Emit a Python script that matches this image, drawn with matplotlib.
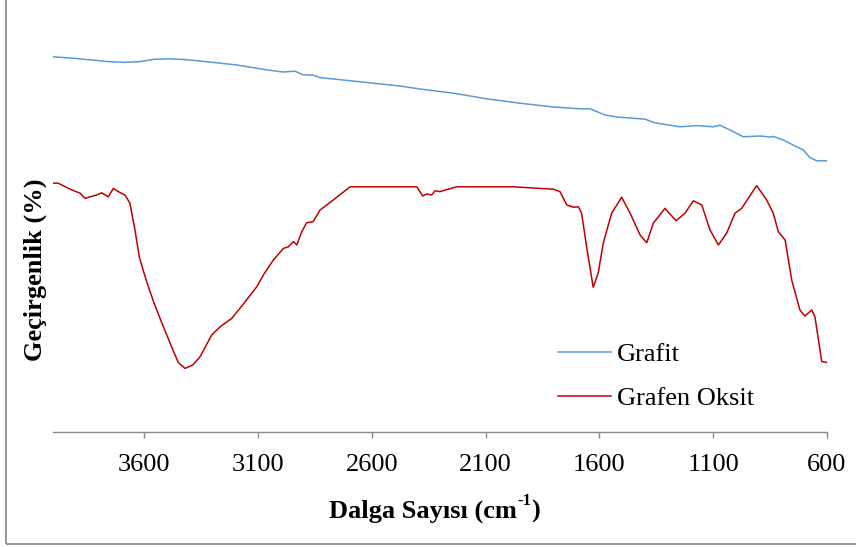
import matplotlib
matplotlib.use("Agg")
import matplotlib.pyplot as plt
from matplotlib.lines import Line2D

# Grafit spectrum (wavenumber cm-1, transmittance a.u.)
grafit_wn = [4000, 3903, 3758, 3684, 3618, 3552, 3486, 3420, 3354, 3192, 3069, 2990,
             2937, 2902, 2858, 2827, 2709, 2594, 2476, 2388, 2241, 2095, 1949, 1802,
             1685, 1641, 1575, 1524, 1421, 1399, 1356, 1246, 1172, 1099, 1070, 1012,
             968, 894, 850, 836, 792, 733, 704, 675, 645, 600]
grafit_t = [93.8, 93.4, 92.6, 92.4, 92.6, 93.2, 93.3, 93.1, 92.75, 91.75, 90.6, 90.0,
            90.2, 89.3, 89.2, 88.6, 87.9, 87.2, 86.5, 85.75, 84.7, 83.3, 82.2, 81.25,
            80.8, 80.8, 79.25, 78.75, 78.3, 78.2, 77.3, 76.3, 76.6, 76.3, 76.7, 75.1,
            73.8, 74.0, 73.75, 73.9, 73.0, 71.3, 70.5, 68.6, 67.8, 67.8]

# Grafen Oksit spectrum
go_wn = [4000, 3977, 3925, 3881, 3859, 3837, 3808, 3786, 3757, 3735, 3713, 3684, 3662,
         3640, 3621, 3600, 3581, 3556, 3515, 3479, 3450, 3420, 3386, 3354, 3303, 3266,
         3215, 3179, 3105, 3076, 3032, 2988, 2966, 2944, 2929, 2907, 2886, 2857, 2827,
         2769, 2695, 2402, 2376, 2359, 2336, 2322, 2300, 2227, 1978, 1802, 1773, 1743,
         1714, 1692, 1678, 1656, 1627, 1605, 1583, 1546, 1502, 1465, 1421, 1392, 1363,
         1312, 1263, 1224, 1187, 1150, 1114, 1077, 1041, 1004, 975, 909, 865, 836, 814,
         784, 755, 719, 697, 667, 653, 623, 600]
go_t = [62.2, 62.2, 60.7, 59.7, 58.4, 58.8, 59.25, 59.8, 58.8, 60.9, 60.1, 59.25, 57.2,
        50.5, 43.8, 39.7, 36.3, 32.2, 26.3, 21.3, 17.4, 15.9, 16.75, 18.8, 24.25, 26.3,
        28.4, 30.9, 36.3, 39.25, 43.0, 45.9, 46.3, 47.6, 46.75, 50.1, 52.3, 52.6, 55.5,
        58.0, 61.3, 61.3, 59.0, 59.5, 59.25, 60.3, 60.1, 61.3, 61.3, 60.7, 60.1, 56.75,
        56.2, 56.3, 54.7, 46.3, 36.2, 39.7, 47.2, 54.7, 58.7, 54.7, 49.25, 47.3, 52.2,
        55.9, 52.8, 54.7, 57.8, 56.75, 50.5, 46.75, 49.7, 54.7, 55.9, 61.6, 58.0, 54.7,
        50.1, 48.0, 38.0, 30.5, 29.0, 30.5, 28.8, 17.6, 17.4]

xticks = [3600, 3100, 2600, 2100, 1600, 1100, 600]

plt.rcParams['font.family'] = ['Liberation Serif', 'DejaVu Serif']

fig = plt.figure(figsize=(8.56, 5.47), dpi=100)
ax = fig.add_axes([53 / 856, 115 / 547, 774 / 856, 400 / 547])

ax.plot(grafit_wn, grafit_t, color='#5B9BD5', lw=1.1, label='Grafit')
ax.plot(go_wn, go_t, color='#C00000', lw=1.1, label='Grafen Oksit')

ax.set_xlim(4000, 600)
ax.set_ylim(0, 100)
ax.set_xticks(xticks)
ax.set_xticklabels([str(t) for t in xticks], fontsize=19)
ax.set_yticks([])
for s in ['top', 'right', 'left']:
	ax.spines[s].set_visible(False)
ax.spines['bottom'].set_color('#8c8c8c')
ax.spines['bottom'].set_linewidth(1.0)
ax.tick_params(axis='x', direction='out', length=4.5, width=1.0, color='#8c8c8c', pad=11)

# x label with a small superscript "-1"
t1 = fig.text(329 / 856, 1 - 518 / 547, 'Dalga Sayısı (cm', ha='left', va='baseline',
              fontsize=19, fontweight='bold')
t2 = fig.add_artist(matplotlib.text.Annotation('-1', xy=(1.0, 0.62), xycoords=t1,
                                               ha='left', va='bottom', fontsize=12,
                                               fontweight='bold'))
t3 = fig.add_artist(matplotlib.text.Annotation(')', xy=(1.0, 0.0), xycoords=(t2, t1),
                                               ha='left', va='bottom', fontsize=19,
                                               fontweight='bold'))

fig.text(35 / 856, 1 - 270 / 547, 'Geçirgenlik (%)', ha='center', va='center', rotation=90,
         fontsize=19, fontweight='bold')

# legend
handles = [Line2D([], [], color='#5B9BD5', lw=1.1), Line2D([], [], color='#C00000', lw=1.1)]
leg = ax.legend(handles, ['Grafit', 'Grafen Oksit'], loc='upper left',
                bbox_to_anchor=(558 / 856, 1 - 343 / 547), bbox_transform=fig.transFigure,
                frameon=False, fontsize=19, handlelength=2.0, handletextpad=0.25,
                labelspacing=0.77, borderpad=0, borderaxespad=0)

# outer chart border
fig.add_artist(plt.Rectangle((6 / 856, 3 / 547), 1.0, 1.0, transform=fig.transFigure,
                             fill=False, edgecolor='#8c8c8c', lw=1.3))

fig.savefig('out.png', dpi=100)
